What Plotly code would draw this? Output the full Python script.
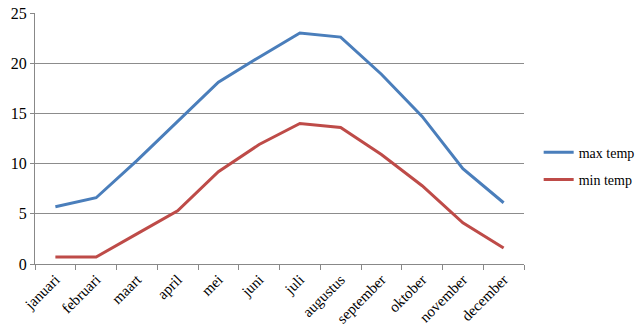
import plotly.graph_objects as go

months = ["januari", "februari", "maart", "april", "mei", "juni", "juli",
          "augustus", "september", "oktober", "november", "december"]
max_temp = [5.7, 6.6, 10.3, 14.2, 18.1, 20.6, 23.0, 22.6, 18.9, 14.7, 9.5, 6.1]
min_temp = [0.7, 0.7, 3.0, 5.3, 9.2, 11.9, 14.0, 13.6, 10.9, 7.8, 4.1, 1.6]

font_family = "Liberation Serif, DejaVu Serif, serif"

fig = go.Figure()
fig.add_trace(go.Scatter(x=months, y=max_temp, name="max temp", mode="lines",
                         legendgroup="max",
                         line=dict(color="#4A7EBB", width=3)))
fig.add_trace(go.Scatter(x=months, y=min_temp, name="min temp", mode="lines",
                         legendgroup="min",
                         line=dict(color="#BE4B48", width=3)))

fig.update_layout(
    width=640, height=333,
    margin=dict(l=35, r=116, t=13, b=69, autoexpand=False),
    paper_bgcolor="white", plot_bgcolor="white",
    font=dict(family=font_family, size=15, color="black"),
    showlegend=True,
    legend=dict(x=1.03, y=0.39, xanchor="left", yanchor="middle",
                itemwidth=30, tracegroupgap=6,
                font=dict(family=font_family, size=14)),
    xaxis=dict(
        type="category", range=[-0.5, 11.5], automargin=False,
        tickangle=-45, tickson="boundaries",
        ticks="outside", ticklen=5, tickcolor="#888888",
        showline=True, linecolor="#888888", linewidth=1,
        showgrid=False, tickfont=dict(size=15),
    ),
    yaxis=dict(
        range=[0, 25], dtick=5, ticks="outside", ticklen=4, automargin=False,
        tickcolor="#888888", showline=True, linecolor="#888888",
        linewidth=1, showgrid=True, gridcolor="#8c8c8c", gridwidth=1,
        zeroline=False, tickfont=dict(size=16),
    ),
)

fig.write_html("out.html")
